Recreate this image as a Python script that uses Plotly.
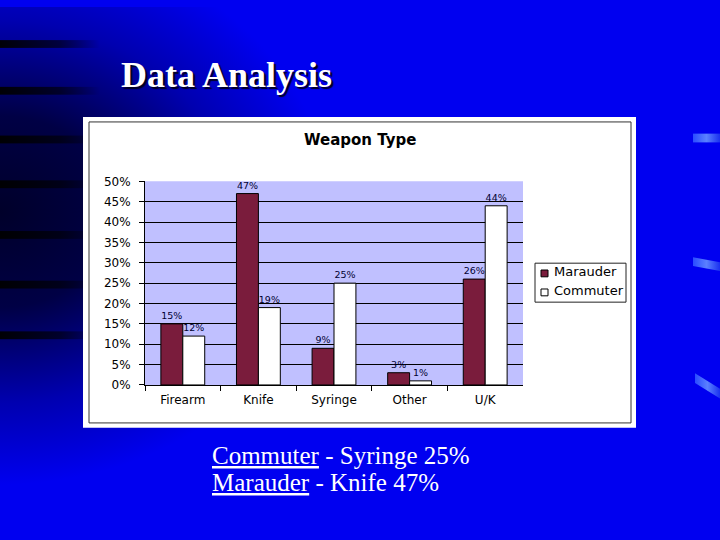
import base64
import plotly.graph_objects as go

# ---- data ----
categories = ["Firearm", "Knife", "Syringe", "Other", "U/K"]
marauder = [0.15, 0.47, 0.09, 0.03, 0.26]
commuter = [0.12, 0.19, 0.25, 0.01, 0.44]
series_names = ["Marauder", "Commuter"]
series_colors = ["#7a1c3c", "#ffffff"]
y_ticks = [0, 0.05, 0.10, 0.15, 0.20, 0.25, 0.30, 0.35, 0.40, 0.45, 0.50]
chart_title = "Weapon Type"
slide_title = "Data Analysis"
note_lines = [("Commuter", " - Syringe 25%"), ("Marauder", " - Knife 47%")]

W, H = 720, 540

# ---- slide background (decorative) ----
stripes = "".join(
    f'<rect x="0" y="{y-4}" width="100" height="8" fill="url(#st)"/>'
    for y in [38, 86, 136, 182, 234, 285, 337]
)
deco = (
    '<polygon points="693,130 720,130 720,139 693,139" fill="url(#dg)"/>'
    '<polygon points="693,257 720,262 720,271 693,266" fill="url(#dg)"/>'
    '<polygon points="695,376 720,392 720,402 695,386" fill="url(#dg)"/>'
)
svg = f'''<svg xmlns="http://www.w3.org/2000/svg" width="{W}" height="{H}" viewBox="0 0 {W} {H}" preserveAspectRatio="none">
<defs>
<radialGradient id="rg" cx="0" cy="210" r="330" gradientUnits="userSpaceOnUse" gradientTransform="translate(0,210) scale(1,0.85) translate(0,-210)">
<stop offset="0" stop-color="#00002a"/>
<stop offset="0.35" stop-color="#000045"/>
<stop offset="0.7" stop-color="#0000b0"/>
<stop offset="1" stop-color="#0000f0"/>
</radialGradient>
<linearGradient id="st" x1="0" x2="1" y1="0" y2="0">
<stop offset="0" stop-color="#000000" stop-opacity="0.95"/>
<stop offset="0.6" stop-color="#000000" stop-opacity="0.6"/>
<stop offset="1" stop-color="#000000" stop-opacity="0"/>
</linearGradient>
<linearGradient id="dg" x1="0" x2="1" y1="0" y2="0">
<stop offset="0" stop-color="#2a4cff"/>
<stop offset="0.5" stop-color="#5a80ff"/>
<stop offset="1" stop-color="#1a30f0"/>
</linearGradient>
</defs>
<rect width="{W}" height="{H}" fill="#0000f0"/>
<rect width="{W}" height="{H}" fill="url(#rg)"/>
{stripes}
{deco}
</svg>'''
bg_uri = "data:image/svg+xml;base64," + base64.b64encode(svg.encode()).decode()

def px_x(x):
    return x / W

def px_y(y):
    return (H - y) / H

fig = go.Figure()
for name, vals, col in zip(series_names, [marauder, commuter], series_colors):
    fig.add_trace(go.Bar(
        x=categories, y=vals, name=name,
        marker=dict(color=col, line=dict(color="black", width=1)),
        texttemplate="%{y:.0%}", textposition="outside",
        textfont=dict(family="DejaVu Sans", size=9.5, color="#000033"),
        cliponaxis=False, showlegend=False,
    ))

shapes = [
    # white chart frame
    dict(type="rect", xref="paper", yref="paper", layer="below",
         x0=px_x(83), x1=px_x(636), y0=px_y(432), y1=px_y(113),
         fillcolor="white", line=dict(width=0)),
    dict(type="rect", xref="paper", yref="paper", layer="below",
         x0=px_x(89), x1=px_x(631), y0=px_y(427), y1=px_y(118),
         fillcolor="white", line=dict(color="#333333", width=1)),
    # lavender plot area
    dict(type="rect", xref="x domain", yref="y domain", layer="below",
         x0=0, x1=1, y0=0, y1=1, fillcolor="#c0c0ff", line=dict(width=0)),
    # legend box
    dict(type="rect", xref="paper", yref="paper", layer="above",
         x0=px_x(535), x1=px_x(626), y0=px_y(303), y1=px_y(263),
         fillcolor="white", line=dict(color="#222222", width=1)),
]

annotations = [
    dict(text=slide_title, xref="paper", yref="paper", x=px_x(119), y=px_y(70),
         xanchor="left", yanchor="middle", showarrow=False,
         font=dict(family="Liberation Serif", size=36, color="white", weight="bold",
                   shadow="2px 2px 1px #000022")),
    dict(text=chart_title, xref="paper", yref="paper", x=px_x(360), y=px_y(137),
         xanchor="center", yanchor="middle", showarrow=False,
         font=dict(family="DejaVu Sans", size=15, color="black", weight="bold")),
]
for i, (u, rest) in enumerate(note_lines):
    annotations.append(dict(
        text=f'<span style="text-decoration:underline">{u}</span>{rest}',
        xref="paper", yref="paper", x=px_x(210), y=px_y(460 + 28 * i),
        xanchor="left", yanchor="middle", showarrow=False,
        font=dict(family="Liberation Serif", size=25, color="white"),
    ))

# legend entries (drawn as swatches + labels)
for i, (name, col) in enumerate(zip(series_names, series_colors)):
    yc = 273.5 + 19.5 * i
    shapes.append(dict(type="rect", xref="paper", yref="paper", layer="above",
                       x0=px_x(541), x1=px_x(548), y0=px_y(yc + 3.5), y1=px_y(yc - 3.5),
                       fillcolor=col, line=dict(color="black", width=1)))
    annotations.append(dict(text=name, xref="paper", yref="paper",
                            x=px_x(552), y=px_y(yc - 1.5), xanchor="left", yanchor="middle",
                            showarrow=False,
                            font=dict(family="DejaVu Sans", size=13, color="black")))

fig.update_layout(
    width=W, height=H,
    margin=dict(l=0, r=0, t=0, b=0),
    paper_bgcolor="#0000f0",
    plot_bgcolor="rgba(0,0,0,0)",
    barmode="group", bargap=0.42, bargroupgap=0,
    images=[dict(source=bg_uri, xref="paper", yref="paper", x=0, y=1,
                 sizex=1, sizey=1, sizing="stretch", layer="below",
                 xanchor="left", yanchor="top")],
    shapes=shapes,
    annotations=annotations,
    showlegend=False,
    xaxis=dict(domain=[px_x(145), px_x(523)], showline=True, linecolor="black",
               ticks="outside", tickson="boundaries", ticklen=5, tickcolor="black",
               tickfont=dict(family="DejaVu Sans", size=12, color="black"),
               ticklabelstandoff=4, fixedrange=True),
    yaxis=dict(domain=[px_y(388), px_y(179)], range=[0, 0.5],
               tickvals=y_ticks, tickformat=".0%",
               showline=True, linecolor="black", ticks="outside", ticklen=5,
               tickcolor="black", showgrid=True, gridcolor="black", gridwidth=1,
               zeroline=False,
               tickfont=dict(family="DejaVu Sans", size=12, color="black"),
               ticklabelstandoff=6, fixedrange=True),
)

fig.write_html("out.html", config={"displayModeBar": False},
               post_script="document.body.style.margin='0';document.body.style.overflow='hidden';")
